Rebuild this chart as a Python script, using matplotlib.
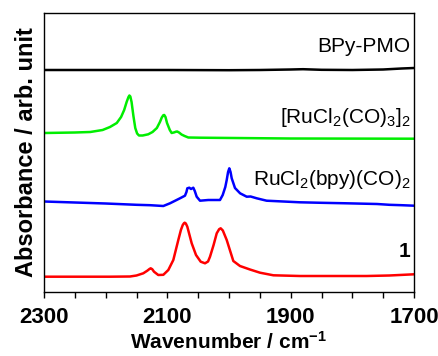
import matplotlib
matplotlib.use("Agg")
import matplotlib.pyplot as plt
from matplotlib.ticker import MultipleLocator, FixedLocator

plt.rcParams['font.family'] = ['Liberation Sans', 'DejaVu Sans']
plt.rcParams['mathtext.fontset'] = 'custom'
plt.rcParams['mathtext.rm'] = 'Liberation Sans'
plt.rcParams['mathtext.it'] = 'Liberation Sans'
plt.rcParams['mathtext.bf'] = 'Liberation Sans:bold'

# ---- data (wavenumber / cm-1, absorbance arb. unit, offset stacked) ----
bpy_wn = [2300, 2200, 2100, 2000, 1950, 1900, 1880, 1850, 1800, 1750, 1720, 1700]
bpy_abs = [2.22, 2.22, 2.22, 2.218, 2.22, 2.225, 2.228, 2.222, 2.22, 2.225, 2.235, 2.24]

ru3_wn = [2300, 2250, 2225, 2205, 2193, 2182, 2175, 2170, 2166, 2163, 2161.5, 2160, 2158,
          2155, 2152, 2149, 2146, 2140, 2131, 2124, 2117, 2112, 2109, 2106.5, 2105, 2103,
          2100.5, 2096, 2093, 2089, 2086, 2084, 2081, 2077, 2072, 2066, 2047, 1900, 1700]
ru3_abs = [1.59, 1.595, 1.60, 1.62, 1.65, 1.69, 1.75, 1.82, 1.90, 1.95, 1.965, 1.955, 1.90,
           1.76, 1.64, 1.585, 1.565, 1.565, 1.577, 1.60, 1.64, 1.70, 1.745, 1.768, 1.77, 1.75,
           1.69, 1.62, 1.59, 1.596, 1.603, 1.605, 1.595, 1.575, 1.56, 1.545, 1.543, 1.535, 1.533]

rubpy_wn = [2300, 2250, 2200, 2150, 2128, 2106.5, 2095.7, 2085, 2079.5, 2071.4, 2069, 2067.6,
            2064.4, 2061.6, 2057.9, 2055.5, 2052.4, 2047, 2033.6, 2014.6, 2010.2, 2006,
            2003.7, 2001.5, 1999.5, 1997.5, 1995.6, 1990.3, 1982, 1971.3, 1965, 1955, 1939,
            1885, 1850, 1809, 1760, 1740, 1720, 1700]
rubpy_abs = [0.905, 0.895, 0.885, 0.872, 0.868, 0.86, 0.887, 0.92, 0.937, 0.963, 1.0, 1.037,
             1.043, 1.03, 1.043, 1.01, 0.953, 0.913, 0.92, 0.92, 0.97, 1.05,
             1.12, 1.2, 1.237, 1.2, 1.137, 1.04, 0.987, 0.953, 0.955, 0.937, 0.913,
             0.897, 0.892, 0.887, 0.88, 0.872, 0.868, 0.863]

cat1_wn = [2300, 2193, 2160.5, 2150, 2139, 2132.5, 2129, 2127, 2124.5, 2121.6, 2114.7, 2106.5,
           2098.4, 2090.3, 2082.2, 2078, 2075, 2073, 2071.8, 2070, 2067.6, 2060.5, 2053.5,
           2045.9, 2038.9, 2034, 2030.8, 2025, 2019.9, 2016, 2013.5, 2010, 2003.7, 1993,
           1982.2, 1966, 1949.7, 1928, 1884.9, 1776.7, 1740, 1700]
cat1_abs = [0.153, 0.153, 0.155, 0.165, 0.187, 0.213, 0.23, 0.237, 0.228, 0.203, 0.17, 0.172,
            0.22, 0.32, 0.52, 0.62, 0.67, 0.688, 0.693, 0.685, 0.653, 0.487, 0.37,
            0.303, 0.287, 0.305, 0.353, 0.47, 0.587, 0.628, 0.637, 0.615, 0.52, 0.31,
            0.26, 0.225, 0.193, 0.167, 0.16, 0.16, 0.165, 0.177]

labels = ["BPy-PMO", "[RuCl$_2$(CO)$_3$]$_2$", "RuCl$_2$(bpy)(CO)$_2$", "1"]
label_y = [2.40, 1.69, 1.07, 0.35]
colors = ["black", "#00ee00", "#0000ff", "#ff0000"]

major_ticks = [2300, 2100, 1900, 1700]

fig = plt.figure(figsize=(4.39, 3.56), dpi=100)
ax = fig.add_axes([44/439, 1 - 292/356, 370/439, 279/356])

series = [(bpy_wn, bpy_abs), (ru3_wn, ru3_abs), (rubpy_wn, rubpy_abs), (cat1_wn, cat1_abs)]
for (wn, ab), c in zip(series, colors):
    ax.plot(wn, ab, color=c, lw=1.8, solid_joinstyle='round')

for lab, yy in zip(labels, label_y):
    ax.text(1706, yy, lab, ha='right', va='baseline', fontsize=15,
            fontweight='bold' if lab == "1" else 'normal')

ax.set_xlim(2300, 1700)
ax.set_ylim(0, 2.79)
ax.set_yticks([])
ax.xaxis.set_major_locator(FixedLocator(major_ticks))
ax.xaxis.set_minor_locator(MultipleLocator(50))
ax.tick_params(axis='x', which='both', direction='out', length=4, width=1.0, pad=7)
for lbl in ax.get_xticklabels():
    lbl.set_fontsize(16)
    lbl.set_fontweight('bold')
for s in ax.spines.values():
    s.set_linewidth(1.0)

ax.set_xlabel("Wavenumber / cm$^{\\mathbf{-1}}$", fontsize=15, fontweight='bold', labelpad=2)
ax.set_ylabel("Absorbance / arb. unit", fontsize=17, fontweight='bold', labelpad=4)

fig.savefig("out.png", dpi=100)
